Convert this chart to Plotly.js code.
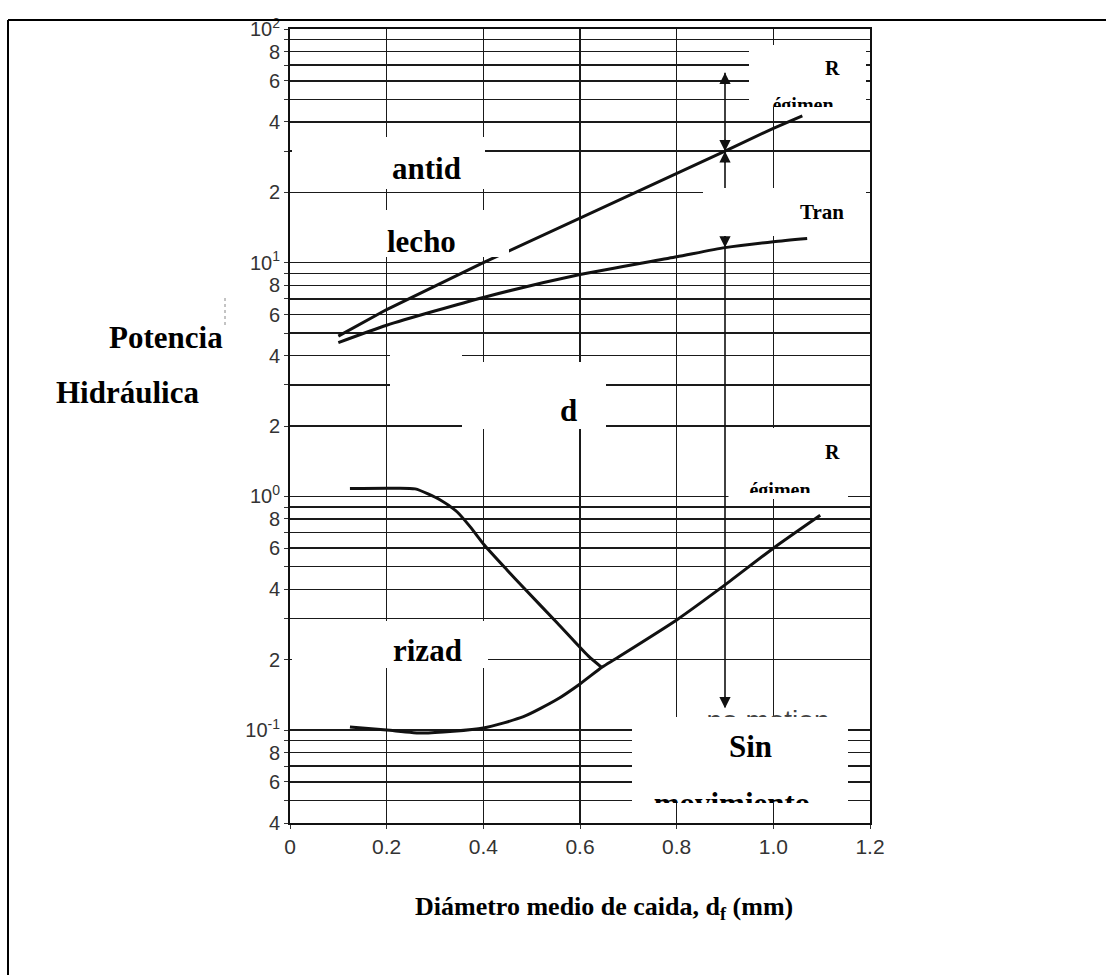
<!DOCTYPE html>
<html><head><meta charset="utf-8">
<script src="https://cdn.plot.ly/plotly-3.0.1.min.js"></script>
<style>html,body{margin:0;padding:0;background:#fff;}#chart{width:1106px;height:975px;}</style>
</head><body><div id="chart"></div>
<script>
// ---------------- data ----------------
const upperX = [0.10, 0.20, 0.40, 0.60, 0.80, 0.90, 1.00, 1.06];
const upperY = [4.85, 6.3, 10.0, 15.5, 24.2, 30.0, 37.6, 42.5];
const transX = [0.10, 0.20, 0.40, 0.60, 0.80, 0.90, 1.00, 1.07];
const transY = [4.55, 5.4, 7.1, 8.9, 10.6, 11.6, 12.3, 12.7];
const rippleTopX = [0.124, 0.207, 0.259, 0.311, 0.346, 0.373, 0.402, 0.449, 0.482, 0.553, 0.617, 0.646];
const rippleTopY = [1.08, 1.083, 1.076, 0.965, 0.857, 0.740, 0.619, 0.484, 0.409, 0.287, 0.2075, 0.1845];
const rippleLowX = [0.124, 0.20, 0.276, 0.40, 0.483, 0.552, 0.60, 0.646, 0.673, 0.80, 0.90, 1.00, 1.097];
const rippleLowY = [0.103, 0.100, 0.097, 0.102, 0.114, 0.135, 0.1575, 0.186, 0.2015, 0.296, 0.418, 0.600, 0.83];
const arrowX = [0.9, 0.9];
const arrowY = [65, 0.125];
const arrowTipsUp = [65, 30];
const arrowTipsDown = [30, 11.6, 0.124];
const xTickVals = [0, 0.2, 0.4, 0.6, 0.8, 1.0, 1.2];
const xTickText = ['0', '0.2', '0.4', '0.6', '0.8', '1.0', '1.2'];
const yTickVals = [0.04,0.05,0.06,0.07,0.08,0.09, 0.1,0.2,0.3,0.4,0.5,0.6,0.7,0.8,0.9,
                   1,2,3,4,5,6,7,8,9, 10,20,30,40,50,60,70,80,90, 100];
const yTickText = ['4','','6','','8','', '10<sup>-1</sup>','2','','4','','6','','8','',
                   '10<sup>0</sup>','2','','4','','6','','8','', '10<sup>1</sup>','2','','4','','6','','8','', '10<sup>2</sup>'];

// ---------------- layout helpers (pixel frame of the plot area) ----------------
const L = 290, R = 870, T = 29, B = 823;
const W = R - L, H = B - T;
const fx = x => (x - L) / W;
const fy = y => (B - y) / H;
const serif = 'Liberation Serif, Times New Roman, serif';
const sans = 'Liberation Sans, Arial, sans-serif';
const ink = '#111';

const traces = [];
[[upperX, upperY, 'linear'], [transX, transY, 'spline'], [rippleTopX, rippleTopY, 'spline'], [rippleLowX, rippleLowY, 'spline']].forEach(p => {
  traces.push({type: 'scatter', mode: 'lines', x: p[0], y: p[1],
               line: {color: ink, width: 3, shape: p[2], smoothing: 0.6},
               hoverinfo: 'skip', showlegend: false});
});
traces.push({type: 'scatter', mode: 'lines', x: arrowX, y: arrowY, line: {color: ink, width: 1.6},
             hoverinfo: 'skip', showlegend: false});
// overlay subplot in pixel units that holds the white label boxes
traces.push({type: 'scatter', mode: 'markers', x: [], y: [], xaxis: 'x2', yaxis: 'y2',
             hoverinfo: 'skip', showlegend: false});

const layout = {
  width: 1106, height: 975,
  margin: {l: L, r: 1106 - R, t: T, b: 975 - B},
  paper_bgcolor: '#fff', plot_bgcolor: 'rgba(0,0,0,0)',
  showlegend: false, hovermode: false,
  xaxis: {range: [0, 1.2], tickmode: 'array', tickvals: xTickVals, ticktext: xTickText,
          showgrid: true, gridcolor: '#1a1a1a', gridwidth: 1.5, zeroline: false,
          showline: true, mirror: true, linecolor: ink, linewidth: 2,
          ticks: 'outside', ticklen: 4, tickcolor: '#333', ticklabelstandoff: 0,
          tickfont: {family: sans, size: 21, color: '#333'}, fixedrange: true},
  yaxis: {type: 'log', range: [Math.log10(0.04), 2], tickmode: 'array', tickvals: yTickVals, ticktext: yTickText,
          showgrid: true, gridcolor: '#1a1a1a', gridwidth: 1.5, zeroline: false,
          showline: true, mirror: true, linecolor: ink, linewidth: 2,
          ticks: 'outside', ticklen: 4, tickcolor: '#333',
          tickfont: {family: sans, size: 20, color: '#333'}, fixedrange: true},
  xaxis2: {domain: [0, 1], range: [L, R], anchor: 'y2', visible: false, fixedrange: true},
  yaxis2: {domain: [0, 1], range: [B, T], anchor: 'x2', visible: false, fixedrange: true},
  shapes: [], annotations: []
};

// white label boxes (pixel rectangles) covering the original scan
const boxes = [[292,485,137,189],[292,509,210,257],[703,866,188,236],[749,866,45,107],
               [390,462,349,421],[462,606,362,429],[728.5,848,428,499],[292,488,621,668],[632,848,717,803]];
boxes.forEach(b => layout.shapes.push({type: 'rect', xref: 'x2', yref: 'y2', x0: b[0], x1: b[1], y0: b[2], y1: b[3],
  fillcolor: '#fff', line: {width: 0}, layer: 'below'}));

// page frame lines
layout.shapes.push({type: 'line', xref: 'paper', yref: 'paper', x0: fx(8), x1: fx(1106), y0: fy(20), y1: fy(20), line: {color: '#000', width: 2}});
layout.shapes.push({type: 'line', xref: 'paper', yref: 'paper', x0: fx(8), x1: fx(8), y0: fy(20), y1: fy(975), line: {color: '#000', width: 2}});
layout.shapes.push({type: 'line', xref: 'paper', yref: 'paper', x0: fx(225), x1: fx(225), y0: fy(298), y1: fy(327), line: {color: '#888', width: 1, dash: 'dot'}});

// clipped texts (each in its own small subplot so the box edge cuts them)
const clipped = [
  {r: [749, 866, 45, 107], x: 803, y: 107, t: 'égimen', size: 20, fam: serif, w: 'bold', c: '#000'},
  {r: [728.5, 848, 428, 493], x: 780, y: 492, t: 'égimen', size: 20, fam: serif, w: 'bold', c: '#000'},
  {r: [632, 848, 717, 803], x: 732, y: 806, t: 'movimiento', size: 31, fam: serif, w: 'bold', c: '#000'},
  {r: [632, 848, 688, 717], x: 768, y: 723, t: 'no motion', size: 28, fam: sans, w: 'normal', c: '#444'}
];
clipped.forEach((c, i) => {
  const k = i + 3;
  layout['xaxis' + k] = {domain: [fx(c.r[0]), fx(c.r[1])], range: [c.r[0], c.r[1]], anchor: 'y' + k, visible: false, fixedrange: true};
  layout['yaxis' + k] = {domain: [fy(c.r[3]), fy(c.r[2])], range: [c.r[3], c.r[2]], anchor: 'x' + k, visible: false, fixedrange: true};
  traces.push({type: 'scatter', mode: 'text', x: [c.x], y: [c.y], text: [c.t], textposition: 'middle center',
    textfont: {family: c.fam, size: c.size, color: c.c, weight: c.w}, cliponaxis: true,
    xaxis: 'x' + k, yaxis: 'y' + k, hoverinfo: 'skip', showlegend: false});
});

// plain labels
const labels = [
  ['antid', 426, 168, 31], ['lecho', 421, 241, 31], ['Tran', 822, 212, 21], ['R', 832, 68, 20],
  ['R', 832, 452, 20], ['d', 568, 410, 31], ['rizad', 427, 650, 31], ['Sin', 750, 746, 31],
  ['Potencia', 166, 337, 31], ['Hidráulica', 127, 392, 31],
  ['Diámetro medio de caida, d<sub>f</sub> (mm)', 604, 908, 26]
];
labels.forEach(a => layout.annotations.push({xref: 'paper', yref: 'paper', x: fx(a[1]), y: fy(a[2]),
  xanchor: 'center', yanchor: 'middle', text: a[0], showarrow: false,
  font: {family: serif, size: a[3], color: '#000', weight: 'bold'}}));

// arrow heads on the vertical 0.9 mm line
arrowTipsUp.forEach(v => layout.annotations.push({xref: 'x', yref: 'y', x: arrowX[0], y: Math.log10(v),
  ax: 0, ay: 13, text: '', showarrow: true, arrowhead: 2, arrowsize: 1.5, arrowwidth: 1.5, arrowcolor: ink}));
arrowTipsDown.forEach(v => layout.annotations.push({xref: 'x', yref: 'y', x: arrowX[0], y: Math.log10(v),
  ax: 0, ay: -13, text: '', showarrow: true, arrowhead: 2, arrowsize: 1.5, arrowwidth: 1.5, arrowcolor: ink}));

Plotly.newPlot('chart', traces, layout, {staticPlot: true, displayModeBar: false});
</script></body></html>
